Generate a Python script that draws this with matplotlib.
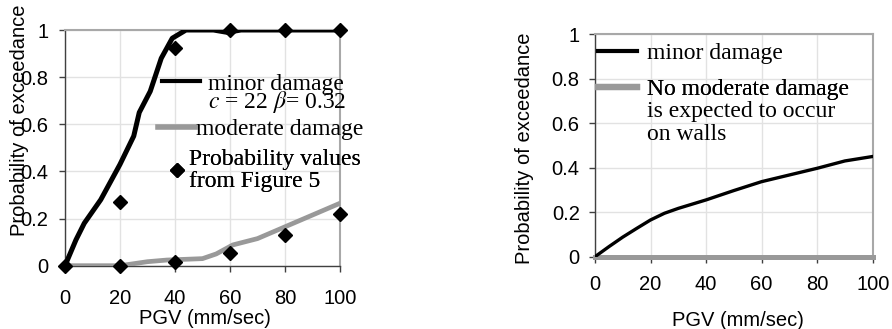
import matplotlib
matplotlib.use("Agg")
import matplotlib.pyplot as plt
from matplotlib.lines import Line2D

plt.rcParams['font.family'] = ['Liberation Sans', 'DejaVu Sans']
plt.rcParams['mathtext.fontset'] = 'stix'

# ---- data (left chart) ----
left_minor_x = [0, 4, 7, 13, 20, 25, 27, 31, 35, 39, 44, 54, 59, 64, 70, 80, 90, 100]
left_minor_y = [0, 0.11, 0.18, 0.28, 0.43, 0.55, 0.65, 0.74, 0.88, 0.965, 1.0, 1.0, 0.99, 1.0, 1.0, 1.0, 1.0, 1.0]
left_mod_x = [0, 20, 30, 37, 50, 55, 61, 70, 80, 90, 100]
left_mod_y = [0, 0, 0.017, 0.024, 0.03, 0.05, 0.088, 0.115, 0.165, 0.215, 0.265]
points_x = [0, 20, 20, 40, 40, 60, 60, 80, 80, 100, 100]
points_y = [0, 0.27, 0, 0.925, 0.017, 1.0, 0.052, 1.0, 0.13, 1.0, 0.22]

# ---- data (right chart) ----
right_minor_x = [0, 5, 10, 15, 20, 25, 30, 40, 50, 60, 70, 80, 90, 100]
right_minor_y = [0, 0.045, 0.088, 0.127, 0.165, 0.195, 0.217, 0.255, 0.297, 0.337, 0.367, 0.397, 0.43, 0.45]
right_mod_x = [0, 100]
right_mod_y = [0, 0]

x_ticks = [0, 20, 40, 60, 80, 100]
y_ticks = [0, 0.2, 0.4, 0.6, 0.8, 1.0]
y_ticklabels = ['0', '0.2', '0.4', '0.6', '0.8', '1']

GRAY = '#999999'
SERIF = ['Liberation Serif', 'DejaVu Serif']
SANS_SIZE = 14.5
SERIF_SIZE = 17

fig = plt.figure(figsize=(8.92, 3.29), dpi=100)
W, H = 892, 329

def axes_px(x0, y0, x1, y1):
    return fig.add_axes([x0 / W, 1 - y1 / H, (x1 - x0) / W, (y1 - y0) / H])

def style(ax, xpad, ypad):
    ax.set_xlim(0, 100)
    ax.set_ylim(0, 1)
    ax.set_xticks(x_ticks)
    ax.set_yticks(y_ticks)
    ax.set_yticklabels(y_ticklabels)
    ax.grid(True, color='#e2e2e2', lw=1)
    ax.set_axisbelow(True)
    for s in ['left', 'bottom']:
        ax.spines[s].set_color('#404040')
        ax.spines[s].set_linewidth(1)
    for s in ['top', 'right']:
        ax.spines[s].set_color('#a8a8a8')
        ax.spines[s].set_linewidth(1.5)
    ax.tick_params(axis='x', direction='out', length=4, width=1, color='#404040',
                   labelsize=SANS_SIZE, pad=xpad)
    ax.tick_params(axis='y', direction='out', length=4, width=1, color='#404040',
                   labelsize=SANS_SIZE, pad=ypad)

def entry(ax, handle, label, x, y, hl, htp, ls=1.0):
    leg = ax.legend([handle], [label], loc='center left', bbox_to_anchor=(x, y),
                    frameon=False, prop={'family': SERIF, 'size': SERIF_SIZE},
                    handlelength=hl, handletextpad=htp, borderaxespad=0,
                    borderpad=0, labelspacing=0)
    for t in leg.get_texts():
        t.set_linespacing(ls)
    ax.add_artist(leg)
    return leg

# ---------------- left chart ----------------
ax1 = axes_px(65, 30, 340, 265.7)
style(ax1, 13, 8)
ax1.plot(left_mod_x, left_mod_y, color=GRAY, lw=3.4, zorder=3)
ax1.plot(left_minor_x, left_minor_y, color='black', lw=3.6, zorder=4)
ax1.plot(points_x, points_y, linestyle='none', marker='D', color='black',
         markersize=7.5, zorder=5, clip_on=False)

entry(ax1, Line2D([], [], color='black', lw=3), 'minor damage', 0.353, 0.772, 1.6, 0.34)
ax1.text(0.52, 0.669, r'$c$ = 22 $\beta$= 0.32', transform=ax1.transAxes,
         family=SERIF, fontsize=SERIF_SIZE, ha='left', va='baseline', zorder=6)
entry(ax1, Line2D([], [], color='black', lw=0) if False else Line2D([], [], color=GRAY, lw=4),
      'moderate damage', 0.338, 0.578, 1.57, 0.04)
entry(ax1, Line2D([], [], linestyle='none', marker='D', color='black', markersize=7.5),
      'Probability values\nfrom Figure 5', 0.364, 0.405, 1.0, 0.0, ls=1.05)

fig.text(20 / W, 1 - 120 / H, 'Probability of exceedance', rotation=90,
         ha='center', va='center', fontsize=SANS_SIZE)
fig.text(205 / W, 1 - 318 / H, 'PGV (mm/sec)', ha='center', va='center', fontsize=SANS_SIZE)

# ---------------- right chart ----------------
ax2 = axes_px(595, 34, 872.7, 256.7)
style(ax2, 9, 7)
ax2.plot(right_mod_x, right_mod_y, color=GRAY, lw=3.6, zorder=3, clip_on=False,
         solid_capstyle='projecting')
ax2.plot(right_minor_x, right_minor_y, color='black', lw=2.4, zorder=4)

entry(ax2, Line2D([], [], color='black', lw=3), 'minor damage', 0.011, 0.912, 1.65, 0.42)
entry(ax2, Line2D([], [], color=GRAY, lw=4.5), 'No moderate damage', 0.011, 0.75, 1.65, 0.42)
ax2.text(0.187, 1 - (140 - 34) / 222.7, 'is expected to occur\non walls',
         transform=ax2.transAxes, family=SERIF, fontsize=SERIF_SIZE,
         ha='left', va='baseline', linespacing=1.12)

fig.text(525 / W, 1 - 148 / H, 'Probability of exceedance', rotation=90,
         ha='center', va='center', fontsize=SANS_SIZE)
fig.text(738 / W, 1 - 320 / H, 'PGV (mm/sec)', ha='center', va='center', fontsize=SANS_SIZE)

fig.savefig('out.png', dpi=100)
